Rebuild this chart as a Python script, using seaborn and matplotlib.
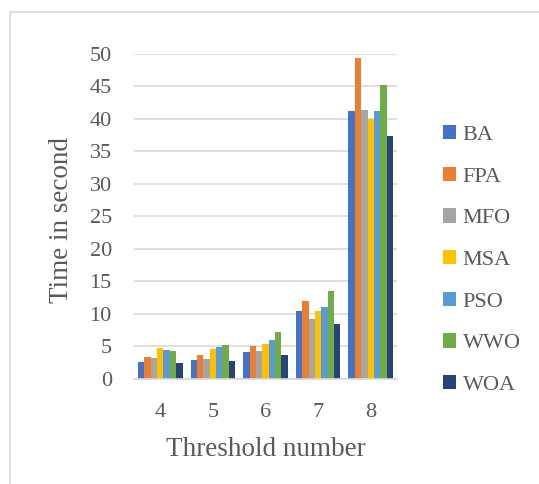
import matplotlib
matplotlib.use("Agg")
import matplotlib.pyplot as plt
import pandas as pd
import seaborn as sns
from matplotlib.patches import Rectangle

# # Running time of each algorithm per threshold number

thresholds = ["4", "5", "6", "7", "8"]
algorithms = ["BA", "FPA", "MFO", "MSA", "PSO", "WWO", "WOA"]
colors = ["#4472C4", "#ED7D31", "#A5A5A5", "#FFC000", "#5B9BD5", "#70AD47", "#264478"]

ba = [2.6, 2.9, 4.1, 10.4, 41.2]
fpa = [3.4, 3.75, 5.0, 12.0, 49.4]
mfo = [3.2, 3.1, 4.3, 9.2, 41.3]
msa = [4.7, 4.6, 5.4, 10.4, 39.9]
pso = [4.5, 4.9, 6.0, 11.0, 41.2]
wwo = [4.3, 5.2, 7.2, 13.5, 45.2]
woa = [2.5, 2.8, 3.75, 8.5, 37.3]

values = [ba, fpa, mfo, msa, pso, wwo, woa]
rows = []
for algo, vals in zip(algorithms, values):
    for t, v in zip(thresholds, vals):
        rows.append({"Threshold": t, "Algorithm": algo, "Time": v})
df = pd.DataFrame(rows)

sns.set_style("white")
plt.rcParams["font.family"] = ["Liberation Serif", "DejaVu Serif"]

fig = plt.figure(figsize=(5.39, 4.84), dpi=100)
ax_left, ax_right, ax_top, ax_bottom = 134, 397, 53.6, 379
ax = fig.add_axes([ax_left / 539, 1 - ax_bottom / 484,
                   (ax_right - ax_left) / 539, (ax_bottom - ax_top) / 484])

sns.barplot(
    data=df,
    x="Threshold",
    y="Time",
    hue="Algorithm",
    order=thresholds,
    hue_order=algorithms,
    palette=colors,
    width=0.85,
    saturation=1,
    linewidth=0,
    edgecolor="none",
    ax=ax,
    legend=True,
)

ax.set_ylim(0, 50)
ax.set_yticks(range(0, 51, 5))
ax.yaxis.grid(True, color="#D9D9D9", linewidth=1.2)
ax.set_axisbelow(True)
for side in ["top", "right", "left"]:
    ax.spines[side].set_visible(False)
ax.spines["bottom"].set_color("#D9D9D9")
ax.spines["bottom"].set_linewidth(1.2)
ax.tick_params(axis="y", length=0, pad=16, labelsize=16, labelcolor="#595959")
ax.tick_params(axis="x", length=0, pad=17, labelsize=16, labelcolor="#595959")
ax.set_xlabel("Threshold number", fontsize=19.5, color="#595959", va="center")
ax.set_ylabel("Time in second", fontsize=19.5, color="#595959", va="center")
h = ax_bottom - ax_top
w = ax_right - ax_left
ax.xaxis.set_label_coords(0.5, (ax_bottom - 449) / h)
ax.yaxis.set_label_coords((62 - ax_left) / w, 0.49)

handles, labels = ax.get_legend_handles_labels()
ax.legend_.remove()
fig.legend(
    handles,
    labels,
    loc="center left",
    bbox_to_anchor=(443 / 539, 1 - 260 / 484),
    bbox_transform=fig.transFigure,
    frameon=False,
    fontsize=16,
    labelspacing=0.98,
    handlelength=0.6,
    handleheight=0.6,
    handletextpad=0.28,
    borderpad=0,
    borderaxespad=0,
    labelcolor="#595959",
)

# light frame around the chart area
fig.patches.append(
    Rectangle(
        (10 / 539, -0.05), 1.2, 1 - 12 / 484 + 0.05,
        transform=fig.transFigure, fill=False, edgecolor="#D9D9D9", linewidth=1.2,
    )
)

fig.savefig("out.png", dpi=100)
